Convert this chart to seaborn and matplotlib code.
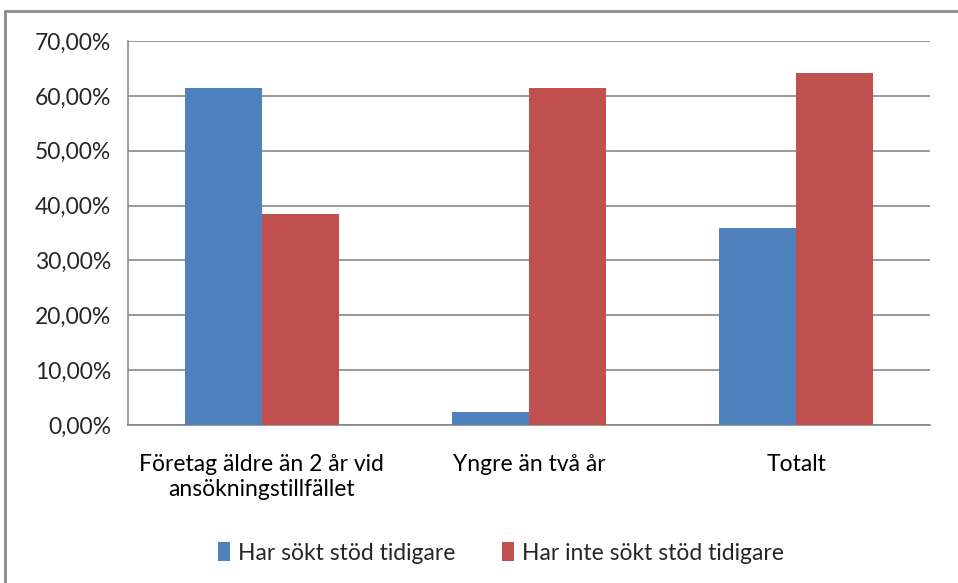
import matplotlib
matplotlib.use('Agg')
import matplotlib.pyplot as plt
import seaborn as sns
import pandas as pd
from matplotlib.lines import Line2D
from matplotlib.ticker import FuncFormatter

# Datos
kategorier = ['Företag äldre än 2 år vid\nansökningstillfället', 'Yngre än två år', 'Totalt']
serier = ['Har sökt stöd tidigare', 'Har inte sökt stöd tidigare']
har_sokt = [61.5, 2.4, 35.9]
har_inte_sokt = [38.5, 61.5, 64.1]
farger = ['#4F81BD', '#C0504D']

df = pd.DataFrame({
    'kategori': kategorier * 2,
    'serie': [serier[0]] * 3 + [serier[1]] * 3,
    'andel': har_sokt + har_inte_sokt,
})

sns.set_style('white')
plt.rcParams['font.family'] = ['Lato', 'DejaVu Sans']
grid_col = '#878787'
fs = 16.5

fig = plt.figure(figsize=(9.58, 5.83), dpi=100)
ax = fig.add_axes([128 / 958, 1 - 425 / 583, (930 - 128) / 958, (425 - 41) / 583])

sns.barplot(data=df, x='kategori', y='andel', hue='serie', palette=farger,
            width=0.575, saturation=1, linewidth=0, ax=ax, zorder=3)

ax.set_ylim(0, 70)
ax.set_xlim(-0.5, 2.5)
ax.set_yticks(range(0, 71, 10))
ax.yaxis.set_major_formatter(FuncFormatter(lambda v, p: f'{v:.2f}%'.replace('.', ',')))
ax.yaxis.grid(True, color=grid_col, linewidth=1.2, zorder=0)
ax.set_axisbelow(True)

# marcas del eje x en los limites de cada categoria
ax.set_xticks([-0.5, 0.5, 1.5, 2.5], minor=True)
ax.tick_params(axis='x', which='major', length=0, pad=21, labelsize=fs, colors='black')
ax.tick_params(axis='x', which='minor', length=6, width=1.2, color=grid_col, direction='out')
ax.tick_params(axis='y', length=6, width=1.2, color=grid_col, direction='out', labelsize=fs, pad=6)
for lbl in ax.get_xticklabels():
    lbl.set_linespacing(1.25)
ax.set_xlabel('')
ax.set_ylabel('')

for s in ['top', 'right']:
    ax.spines[s].set_visible(False)
for s in ['left', 'bottom']:
    ax.spines[s].set_color(grid_col)
    ax.spines[s].set_linewidth(1.2)

ax.legend(loc='center', bbox_to_anchor=((501 - 128) / 802, (553 - 425) / -384),
          ncol=2, frameon=False, fontsize=fs, handlelength=0.55, handleheight=0.9,
          handletextpad=0.35, columnspacing=2.0)

# marco del grafico (arriba y a la izquierda)
fig.add_artist(Line2D([5 / 958, 5 / 958], [0, 1 - 11 / 583], color='#8c8c8c', lw=2))
fig.add_artist(Line2D([5 / 958, 1], [1 - 11 / 583, 1 - 11 / 583], color='#8c8c8c', lw=2))

fig.savefig('out.png', dpi=100)
